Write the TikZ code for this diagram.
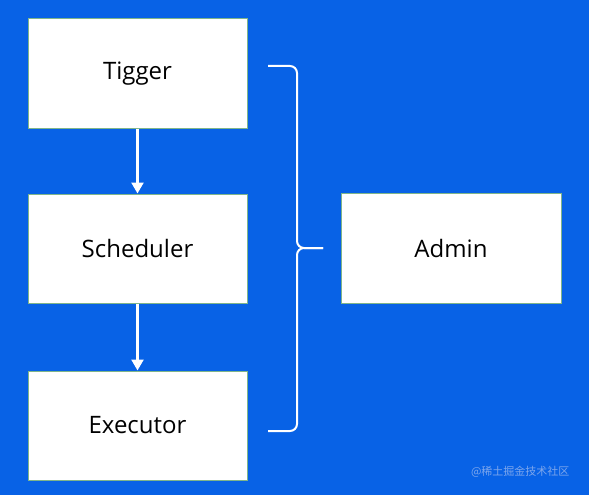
\documentclass[tikz,border=0pt]{standalone}
\usepackage{fontspec}
\setmainfont{Open Sans}
\newfontfamily\cjkfont{Noto Sans CJK SC}
\usetikzlibrary{positioning, arrows.meta}
\definecolor{backblue}{HTML}{0862E6}
\definecolor{boxedge}{HTML}{7FB58A}
\definecolor{markblue}{HTML}{7DA6EC}

\begin{document}
\begin{tikzpicture}[
    x=1pt, y=-1pt,
    block/.style={draw=boxedge, line width=1pt, fill=white, minimum width=219pt, minimum height=109pt, text centered, font=\fontsize{24}{28}\selectfont},
    flow/.style={draw=white, line width=2.4pt, -{Triangle[width=12pt, length=11pt]}},
    bracket/.style={draw=white, line width=2pt, rounded corners=7pt},
]

% background
\fill[backblue] (0,0) rectangle (589,495);
\useasboundingbox (0,0) rectangle (589,495);

% Left column
\node[block] (tigger) at (137.5, 73.5) {Tigger};
\node[block, below=65pt of tigger] (sched) {Scheduler};
\node[block, below=67pt of sched] (exec) {Executor};

\draw[flow] (tigger) -- (sched);
\draw[flow] (sched) -- (exec);

% Brace: two halves meeting at the tip
\coordinate (btop) at (268, 66);
\coordinate (bbot) at (268, 431);
\coordinate (btip) at (323, 248);
\draw[bracket] (btop) -- (297, 66) -- (297, 248) -- (btip);
\draw[bracket] (bbot) -- (297, 431) -- (297, 248) -- (btip);

\node[block, minimum width=220pt, minimum height=110pt] (admin) at (451, 248) {Admin};

% watermark
\node[font=\cjkfont\fontsize{11}{13}\selectfont, text=markblue, anchor=east] (mark) at (573, 472) {@稀土掘金技术社区};

\end{tikzpicture}
\end{document}
